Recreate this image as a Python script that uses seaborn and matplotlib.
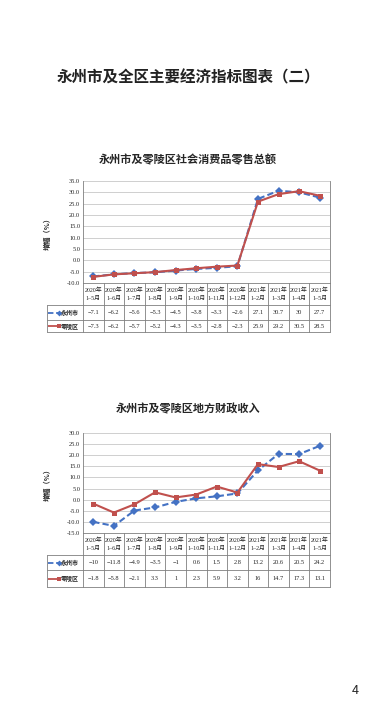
import matplotlib
matplotlib.use("Agg")
import matplotlib.pyplot as plt
import seaborn as sns
import pandas as pd

# ---- data ----
periods = ["2020年\n1–5月", "2020年\n1–6月", "2020年\n1–7月", "2020年\n1–8月",
           "2020年\n1–9月", "2020年\n1–10月", "2020年\n1–11月", "2020年\n1–12月",
           "2021年\n1–2月", "2021年\n1–3月", "2021年\n1–4月", "2021年\n1–5月"]
series_names = ["永州市", "零陵区"]

retail_yz = [-7.1, -6.2, -5.6, -5.3, -4.5, -3.8, -3.3, -2.6, 27.1, 30.7, 30, 27.7]
retail_ll = [-7.3, -6.2, -5.7, -5.2, -4.3, -3.5, -2.8, -2.3, 25.9, 29.2, 30.5, 28.5]

revenue_yz = [-10, -11.8, -4.9, -3.5, -1, 0.6, 1.5, 2.8, 13.2, 20.6, 20.5, 24.2]
revenue_ll = [-1.8, -5.8, -2.1, 3.3, 1, 2.3, 5.9, 3.2, 16, 14.7, 17.3, 13.1]

sns.set_style("white")
plt.rcParams["font.family"] = ["Liberation Serif", "Noto Sans CJK SC", "DejaVu Sans"]
plt.rcParams["axes.unicode_minus"] = False

W, H = 377, 718
fig = plt.figure(figsize=(W / 100, H / 100), dpi=100)
fig.patch.set_facecolor("white")

BLUE = "#4472C4"
RED = "#C0504D"
GRID = "#c8c8c8"
LINE = "#7f7f7f"
SANS = ["Noto Sans CJK SC", "DejaVu Sans"]


def px_axes(l, t, r, b):
    return fig.add_axes([l / W, 1 - b / H, (r - l) / W, (b - t) / H])


def fmt(v):
    s = f"{v:g}"
    return s.replace("-", "−")


def draw_chart(top, bottom, ymin, ymax, yz, ll, row_h):
    df = pd.DataFrame({"x": list(range(12)) * 2,
                       "v": yz + ll,
                       "s": [series_names[0]] * 12 + [series_names[1]] * 12})
    ax = px_axes(83, top, 330, bottom)
    sns.lineplot(data=df, x="x", y="v", hue="s", style="s",
                 palette=[BLUE, RED], dashes=[(3, 1.5), ""], markers=["D", "s"],
                 markersize=3.6, linewidth=1.5, markeredgewidth=0,
                 legend=False, ax=ax)
    ax.set_xlim(-0.5, 11.5)
    ax.set_ylim(ymin, ymax)
    ax.set_yticks(range(ymin, ymax + 1, 5))
    ax.set_yticklabels([f"{t:.1f}" for t in range(ymin, ymax + 1, 5)], fontsize=4.6)
    ax.set_xticks([])
    ax.grid(True, axis="y", color=GRID, linewidth=0.6)
    ax.tick_params(axis="both", length=0, pad=2)
    ax.set_xlabel("")
    ax.set_ylabel("增幅（%）", family=SANS, fontsize=5.2, fontweight="bold", labelpad=12)
    for sp in ax.spines.values():
        sp.set_color(LINE)
        sp.set_linewidth(0.6)
    ax.spines["top"].set_visible(False)

    # table under the plot
    hh, r1, r2 = row_h
    total = hh + r1 + r2
    tab = px_axes(83, bottom, 330, bottom + total)
    tab.set_xlim(-0.5, 11.5)
    tab.set_ylim(total, 0)
    tab.axis("off")
    lab_l = -2.25
    kw = dict(color=LINE, linewidth=0.6, clip_on=False)
    for i in range(13):
        tab.plot([-0.5 + i, -0.5 + i], [0, total], **kw)
    tab.plot([lab_l, lab_l], [hh, total], **kw)
    for y in (hh, hh + r1, total):
        tab.plot([lab_l, 11.5], [y, y], **kw)
    for i, p in enumerate(periods):
        tab.text(i, hh / 2, p, ha="center", va="center", fontsize=4.3,
                 linespacing=1.7, clip_on=False)
    rows = [(yz, BLUE, "D", (3, 1.5), hh + r1 / 2), (ll, RED, "s", None, hh + r1 + r2 / 2)]
    for k, (vals, c, m, dash, yc) in enumerate(rows):
        for i, v in enumerate(vals):
            tab.text(i, yc, fmt(v), ha="center", va="center", fontsize=4.6, clip_on=False)
        ln, = tab.plot([lab_l + 0.06, lab_l + 0.56], [yc, yc], color=c, linewidth=1.3,
                       marker=m, markevery=[1], markersize=3, markeredgewidth=0, clip_on=False)
        ln.set_solid_capstyle("butt")
        ln.set_dash_capstyle("butt")
        if dash:
            ln.set_dashes(dash)
        tab.text(lab_l + 0.68, yc, series_names[k], family=SANS, fontsize=4.3,
                 fontweight="bold", ha="left", va="center", clip_on=False)
    return ax


fig.text(0.5, 1 - 77 / H, "永州市及全区主要经济指标图表（二）", family=SANS,
         fontsize=11.2, fontweight="bold", color="#222222", ha="center", va="center")

fig.text(188 / W, 1 - 160 / H, "永州市及零陵区社会消费品零售总额", family=SANS,
         fontsize=8, fontweight="bold", ha="center", va="center")
draw_chart(181, 283, -10, 35, retail_yz, retail_ll, (22, 15, 12))

fig.text(188 / W, 1 - 409 / H, "永州市及零陵区地方财政收入", family=SANS,
         fontsize=8, fontweight="bold", ha="center", va="center")
draw_chart(433, 533, -15, 30, revenue_yz, revenue_ll, (22, 15, 17))

fig.text(355 / W, 1 - 690 / H, "4", family=SANS, fontsize=9, ha="center", va="center")

fig.savefig("out.png", dpi=100, facecolor="white")
